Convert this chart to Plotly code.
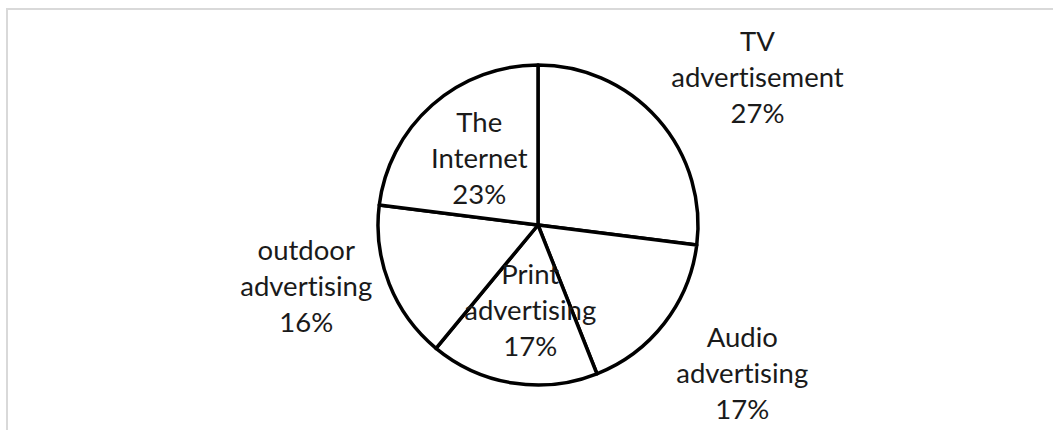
import plotly.graph_objects as go

categories = ["TV advertisement", "Audio advertising", "Print advertising", "outdoor advertising", "The Internet"]
label_lines = [["TV", "advertisement"], ["Audio", "advertising"], ["Print", "advertising"], ["outdoor", "advertising"], ["The", "Internet"]]
values = [27, 17, 17, 16, 23]

W, H = 1053, 430
# label anchor positions (pixel centres of the middle line) — layout only
label_pos = [(757, 77), (742, 372), (530, 309), (306, 285), (479, 157)]

fig = go.Figure()
fig.add_trace(go.Pie(
    labels=categories,
    values=values,
    sort=False,
    direction="clockwise",
    rotation=0,
    marker=dict(colors=["white"] * len(values), line=dict(color="black", width=3.5)),
    textinfo="none",
    hoverinfo="label+percent",
    showlegend=False,
    domain=dict(x=[378 / W, 698 / W], y=[1 - 385 / H, 1 - 65 / H]),
))

total = sum(values)
for lines, v, (px, py) in zip(label_lines, values, label_pos):
    txt = "<br>".join(lines + [f"{round(100 * v / total)}%"])
    fig.add_annotation(
        x=px / W, y=1 - py / H, xref="paper", yref="paper",
        text=txt, showarrow=False, xanchor="center", yanchor="middle",
        font=dict(family="Lato, Open Sans, sans-serif", size=27.5, color="#1a1a1a"),
        align="center",
    )

fig.add_shape(type="rect", xref="paper", yref="paper",
              x0=7 / W, y0=-0.1, x1=1.1, y1=1 - 9 / H,
              line=dict(color="#d9d9d9", width=2), fillcolor="rgba(0,0,0,0)")

fig.update_layout(
    width=W, height=H,
    margin=dict(l=0, r=0, t=0, b=0),
    paper_bgcolor="white", plot_bgcolor="white",
)
post = ("var s=document.createElement('style');"
        "s.textContent='text{font-variant-ligatures:none;font-feature-settings:\"liga\" 0;}';"
        "document.head.appendChild(s);")
fig.write_html("out.html", post_script=post)
